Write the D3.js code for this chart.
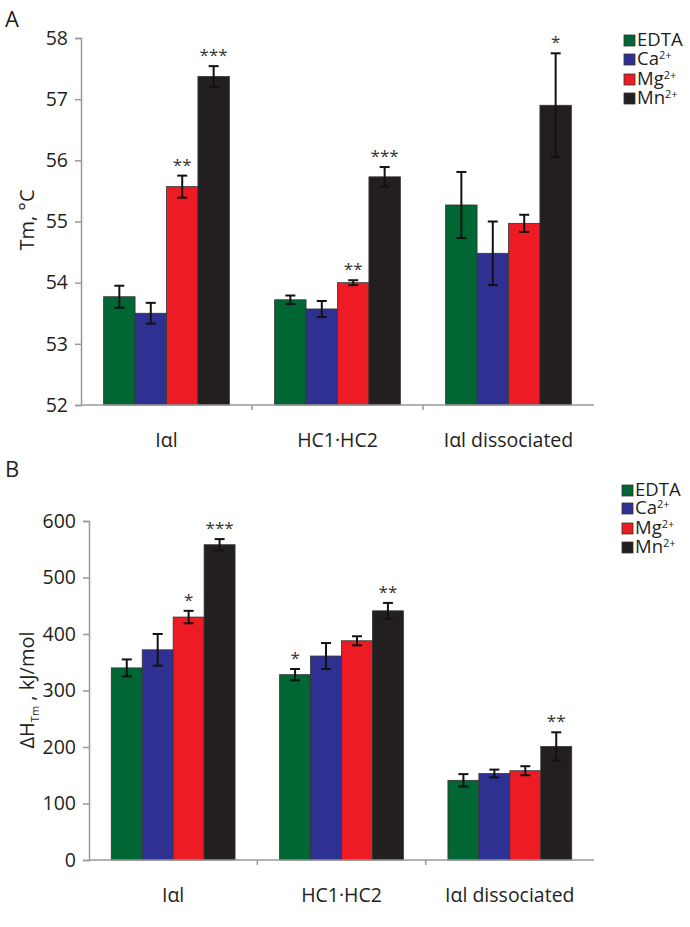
<!DOCTYPE html>
<html>
<head>
<meta charset="utf-8">
<script src="https://cdn.jsdelivr.net/npm/d3@7"></script>
<style>
body { margin: 0; background: #fff; }
text { font-family: "Open Sans", sans-serif; }
</style>
</head>
<body>
<div id="viz"></div>
<script>
var width = 690
var height = 927

// categories and series
var groups = ["Iαl", "HC1·HC2", "Iαl dissociated"];
var series = ["EDTA", "Ca", "Mg", "Mn"];
var colors = ["#006633", "#2e3192", "#ed1c24", "#231f20"];

// panel A: Tm
var tmValues = [[53.77, 53.50, 55.57, 57.37], [53.72, 53.57, 54.00, 55.73], [55.27, 54.48, 54.97, 56.90]];
var tmErrors = [[0.18, 0.17, 0.18, 0.17], [0.07, 0.13, 0.04, 0.16], [0.54, 0.52, 0.14, 0.85]];
var tmStars = [["", "", "**", "***"], ["", "", "**", "***"], ["", "", "", "*"]];
var tmTicks = [52, 53, 54, 55, 56, 57, 58];

// panel B: dH
var dhValues = [[340, 372, 430, 558], [328, 361, 388, 441], [141, 153, 158, 201]];
var dhErrors = [[15, 28, 11, 10], [10, 23, 8, 14], [11, 7, 8, 25]];
var dhStars = [["", "", "*", "***"], ["*", "", "", "**"], ["", "", "", "**"]];
var dhTicks = [0, 100, 200, 300, 400, 500, 600];

var svg = d3.select("#viz")
  .append("svg")
  .attr("width", width)
  .attr("height", height);

function panel(opt) {
  var g = svg.append("g");

  var x0 = d3.scaleBand().domain(groups).range([opt.left, opt.right]);
  var x1 = d3.scaleBand().domain(series).range([0, x0.bandwidth()]).paddingOuter(0.72);
  var y = d3.scaleLinear().domain(opt.domain).range([opt.bottom, opt.top]);

  // bars
  var grp = g.selectAll("g.grp")
    .data(groups)
    .enter().append("g")
    .attr("transform", d => "translate(" + x0(d) + ",0)");

  grp.each(function(gname, gi) {
    var sel = d3.select(this);
    series.forEach(function(s, si) {
      var v = opt.values[gi][si], e = opt.errors[gi][si];
      var bx = x1(s), bw = x1.bandwidth();
      sel.append("rect")
        .attr("x", bx)
        .attr("y", y(v))
        .attr("width", bw)
        .attr("height", opt.bottom - y(v))
        .attr("fill", colors[si])
        .attr("stroke", "#333")
        .attr("stroke-width", 0.8);
      var cx = bx + bw / 2;
      sel.append("line").attr("x1", cx).attr("x2", cx).attr("y1", y(v - e)).attr("y2", y(v + e))
        .attr("stroke", "#111").attr("stroke-width", 2);
      [v - e, v + e].forEach(function(t) {
        sel.append("line").attr("x1", cx - 5).attr("x2", cx + 5).attr("y1", y(t)).attr("y2", y(t))
          .attr("stroke", "#111").attr("stroke-width", 2);
      });
      var st = opt.stars[gi][si];
      if (st) {
        sel.append("text")
          .attr("x", cx)
          .attr("y", y(v + e) - 5)
          .attr("text-anchor", "middle")
          .attr("font-size", 17)
          .attr("fill", "#333")
          .text(st);
      }
    });
  });

  // y axis
  var yAxis = g.append("g")
    .attr("transform", "translate(" + opt.left + ",0)")
    .call(d3.axisLeft(y).tickValues(opt.ticks).tickSize(6).tickPadding(7).tickFormat(d3.format("d")));
  yAxis.selectAll("path, line").attr("stroke", "#999").attr("stroke-width", 1.5);
  yAxis.selectAll("text").attr("font-size", 19.5).attr("fill", "#231f20").style("font-family", "Open Sans");

  // x axis
  var xAxis = g.append("g")
    .attr("transform", "translate(0," + opt.bottom + ")");
  xAxis.append("line").attr("x1", opt.left).attr("x2", opt.right).attr("y1", 0).attr("y2", 0)
    .attr("stroke", "#999").attr("stroke-width", 1.5);
  groups.slice(1).forEach(function(d) {
    xAxis.append("line").attr("x1", x0(d)).attr("x2", x0(d)).attr("y1", 0).attr("y2", 5)
      .attr("stroke", "#999").attr("stroke-width", 1.5);
  });
  xAxis.selectAll("text.cat")
    .data(groups)
    .enter().append("text")
    .attr("x", d => x0(d) + x0.bandwidth() / 2)
    .attr("y", 42)
    .attr("text-anchor", "middle")
    .attr("font-size", 19.5)
    .attr("fill", "#231f20")
    .text(d => d);

  // panel letter
  g.append("text").attr("x", 5).attr("y", opt.letterY).attr("font-size", 22).attr("fill", "#231f20").text(opt.letter);

  // y title
  var yt = g.append("text")
    .attr("transform", "translate(" + 34 + "," + opt.titleY + ") rotate(-90)")
    .attr("text-anchor", "middle")
    .attr("font-size", 20)
    .attr("fill", "#231f20");
  opt.ytitle(yt);

  // legend
  var lg = g.append("g").attr("transform", "translate(" + opt.legX + "," + opt.legY + ")");
  series.forEach(function(s, i) {
    var row = lg.append("g").attr("transform", "translate(0," + opt.legStep[i] + ")");
    row.append("rect").attr("x", 0).attr("y", -11).attr("width", 11).attr("height", 11)
      .attr("fill", colors[i]).attr("stroke", "#333").attr("stroke-width", 0.8);
    var t = row.append("text").attr("x", 13).attr("y", 0).attr("font-size", 18.5).attr("fill", "#231f20");
    if (s === "EDTA") {
      t.text("EDTA");
    } else {
      t.append("tspan").text(s);
      t.append("tspan").attr("dy", -6).attr("font-size", 11).text("2+");
    }
  });
}

panel({
  left: 81, right: 594, top: 38, bottom: 405,
  domain: [52, 58], ticks: tmTicks,
  values: tmValues, errors: tmErrors, stars: tmStars,
  letter: "A", letterY: 27, titleY: 220,
  legX: 624, legY: 46, legStep: [0, 19, 39, 58],
  ytitle: function(t) { t.text("Tm, °C"); }
});

panel({
  left: 89, right: 594, top: 521, bottom: 860,
  domain: [0, 600], ticks: dhTicks,
  values: dhValues, errors: dhErrors, stars: dhStars,
  letter: "B", letterY: 477, titleY: 690,
  legX: 622, legY: 496, legStep: [0, 18, 38, 57],
  ytitle: function(t) {
    t.append("tspan").text("ΔH");
    t.append("tspan").attr("dy", 5).attr("font-size", 11).text("Tm");
    t.append("tspan").attr("dy", -5).text("  , kJ/mol");
  }
});
</script>
</body>
</html>
